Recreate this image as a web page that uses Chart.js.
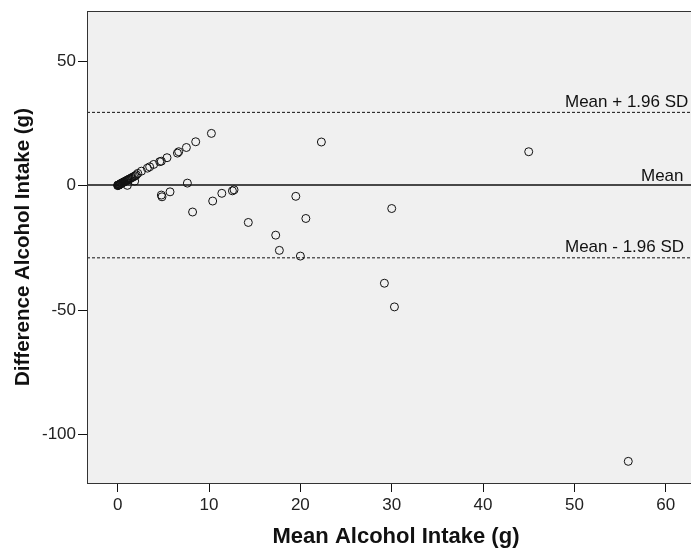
<!DOCTYPE html>
<html>
<head>
<meta charset="utf-8">
<script src="https://cdn.jsdelivr.net/npm/chart.js@4.4.1/dist/chart.umd.min.js"></script>
<style>
  html, body { margin: 0; padding: 0; overflow: hidden; background: #fff; }
</style>
</head>
<body>
<canvas id="chart" width="705" height="550"></canvas>
<script>
// Bland-Altman data: mean and difference of the two intake measures (g)
const meanIntake = [
  0.0, 0.0, 0.05, 0.1, 0.1, 0.15, 0.2, 0.25, 0.3, 0.35, 0.4, 0.45, 0.5, 0.6, 0.65,
  0.7, 0.8, 0.9, 1.0, 1.1, 1.2, 1.3, 1.45, 1.6, 1.75, 1.9, 2.05, 2.2, 2.6, 3.25,
  3.5, 3.94, 4.6, 4.78, 5.4, 6.54, 6.68, 7.52, 8.54, 10.26,
  1.06, 1.86, 7.63, 4.78, 4.85, 5.73, 8.2, 10.4, 11.4, 12.56, 12.74, 14.3,
  19.5, 20.6, 17.3, 17.7, 20.0, 30.0, 29.2, 30.3, 22.3, 45.0, 55.9
];
const diffIntake = [
  0.0, 0.2, 0.1, 0.2, 0.3, 0.3, 0.4, 0.5, 0.6, 0.8, 0.9, 1.0, 1.1, 1.3, 1.4,
  1.5, 1.7, 1.9, 2.1, 2.3, 2.5, 2.7, 3.0, 3.3, 3.6, 3.9, 4.3, 4.9, 5.8, 7.0,
  7.55, 8.5, 9.6, 9.8, 11.2, 13.05, 13.6, 15.3, 17.6, 20.96,
  0.1, 1.8, 1.0, -3.8, -4.5, -2.5, -10.6, -6.2, -3.1, -2.1, -1.7, -14.8,
  -4.3, -13.2, -19.9, -26.0, -28.3, -9.2, -39.2, -48.7, 17.5, 13.6, -110.7
];

const xTicks = [0, 10, 20, 30, 40, 50, 60];
const yTicks = [50, 0, -50, -100];

// limits of agreement
const meanDiff = 0.2;
const upperLimit = 29.4;
const lowerLimit = -29.0;

// the plot runs a little past the right edge of the window
const xMin = -3.36, xMax = 64.3;
const yMin = -119.4, yMax = 70.1;

const FONT = "'Liberation Sans', Arial, Helvetica, sans-serif";

const hline = (y, dash, width) => ({
  type: "line",
  data: [{ x: xMin, y: y }, { x: xMax, y: y }],
  borderColor: "#111",
  borderWidth: width,
  borderDash: dash,
  pointRadius: 0,
  fill: false,
  order: 2,
});

const noPadding = (s) => {
  s.paddingLeft = 0; s.paddingRight = 0; s.paddingTop = 0; s.paddingBottom = 0;
};

// grey plot box, frame and line labels
const plotFrame = {
  id: "plotFrame",
  beforeDraw(chart) {
    const { ctx, chartArea: a } = chart;
    ctx.save();
    ctx.fillStyle = "#f0f0f0";
    ctx.fillRect(a.left, a.top, a.right - a.left, a.bottom - a.top);
    ctx.restore();
  },
  afterDraw(chart) {
    const { ctx, chartArea: a, scales } = chart;
    ctx.save();
    ctx.strokeStyle = "#333";
    ctx.lineWidth = 1;
    ctx.strokeRect(a.left + 0.5, a.top + 0.5, a.right - a.left, a.bottom - a.top);

    ctx.fillStyle = "#111";
    ctx.font = "17px " + FONT;
    ctx.textAlign = "left";
    ctx.textBaseline = "alphabetic";
    const y = scales.y;
    ctx.fillText("Mean + 1.96 SD", a.right - 140, y.getPixelForValue(upperLimit) - 5.5);
    ctx.fillText("Mean", a.right - 64, y.getPixelForValue(meanDiff) - 4);
    ctx.fillText("Mean - 1.96 SD", a.right - 140, y.getPixelForValue(lowerLimit) - 5.5);
    ctx.restore();
  },
};

new Chart(document.getElementById("chart"), {
  type: "scatter",
  data: {
    datasets: [
      {
        label: "Difference",
        data: meanIntake.map((m, i) => ({ x: m, y: diffIntake[i] })),
        pointStyle: "circle",
        pointRadius: 4,
        pointBorderWidth: 1,
        pointBorderColor: "#111",
        pointBackgroundColor: "rgba(0,0,0,0)",
        order: 1,
      },
      hline(upperLimit, [3, 2], 1),
      hline(meanDiff, [], 1.5),
      hline(lowerLimit, [3, 2], 1),
    ],
  },
  options: {
    responsive: false,
    animation: false,
    events: [],
    layout: { autoPadding: false, padding: { top: 11, left: 0, right: 0, bottom: 0 } },
    plugins: { legend: { display: false }, tooltip: { enabled: false } },
    scales: {
      x: {
        type: "linear",
        min: xMin,
        max: xMax,
        afterBuildTicks: (s) => { s.ticks = xTicks.map((v) => ({ value: v })); },
        afterFit: (s) => { s.height = 67; noPadding(s); },
        grid: { drawOnChartArea: false, drawTicks: true, tickLength: 9, color: "#111" },
        border: { display: false },
        ticks: { font: { family: FONT, size: 17 }, color: "#222", padding: 3, maxRotation: 0 },
        title: {
          display: true,
          text: "Mean Alcohol Intake (g)",
          font: { family: FONT, size: 22, weight: "bold" },
          color: "#111",
          padding: { top: 0, bottom: 0 },
        },
      },
      y: {
        type: "linear",
        min: yMin,
        max: yMax,
        afterBuildTicks: (s) => { s.ticks = yTicks.map((v) => ({ value: v })); },
        afterFit: (s) => { s.width = 87; noPadding(s); },
        grid: { drawOnChartArea: false, drawTicks: true, tickLength: 9, color: "#111" },
        border: { display: false },
        ticks: { font: { family: FONT, size: 17 }, color: "#222", padding: 2 },
        title: {
          display: true,
          text: "Difference Alcohol Intake (g)",
          font: { family: FONT, size: 20.5, weight: "bold" },
          color: "#111",
          padding: { top: 11, bottom: 0 },
        },
      },
    },
  },
  plugins: [plotFrame],
});
</script>
</body>
</html>
